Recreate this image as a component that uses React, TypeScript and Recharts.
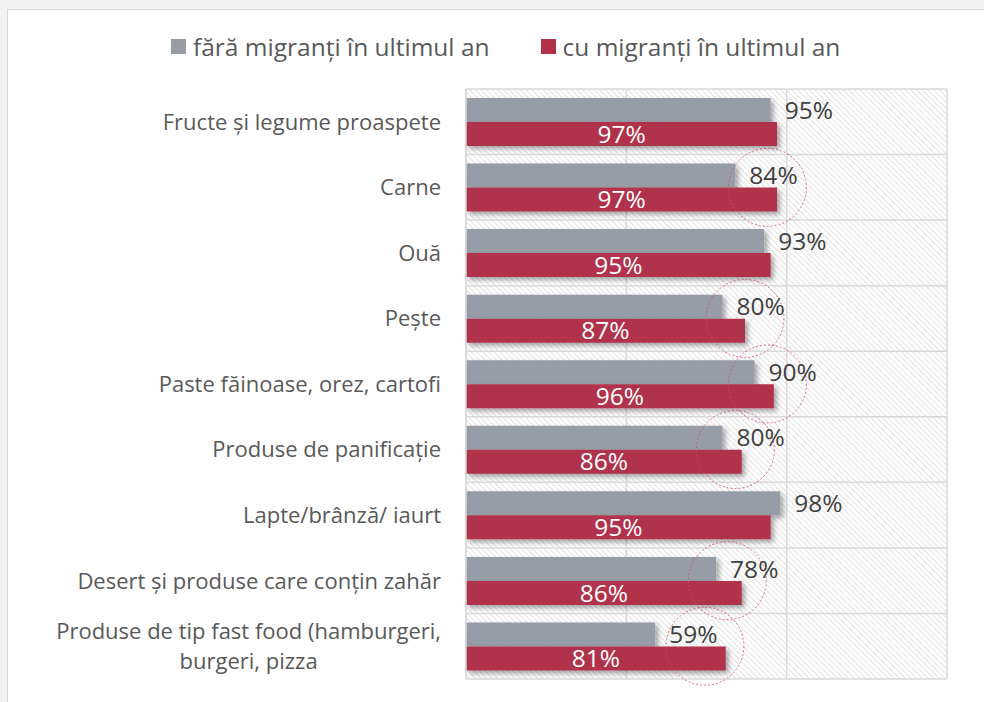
import React from 'react';
import {
  BarChart,
  Bar,
  XAxis,
  YAxis,
  CartesianGrid,
  LabelList,
  ReferenceDot,
  Rectangle,
} from 'recharts';

const categories = [
  'Fructe și legume proaspete',
  'Carne',
  'Ouă',
  'Pește',
  'Paste făinoase, orez, cartofi',
  'Produse de panificație',
  'Lapte/brânză/ iaurt',
  'Desert și produse care conțin zahăr',
  'Produse de tip fast food (hamburgeri,\nburgeri, pizza',
];
const faraMigranti = [95, 84, 93, 80, 90, 80, 98, 78, 59];
const cuMigranti = [97, 97, 95, 87, 96, 86, 95, 86, 81];
// dotted circles drawn by hand around some labels (x position in % units)
const highlightAt: (number | null)[] = [null, 94, null, 87, 94, 84, null, 81.5, 74.5];
const xTicks = [0, 50, 100, 150];
const seriesNames = ['fără migranți în ultimul an', 'cu migranți în ultimul an'];

const GRAY = '#969DA6';
const RED = '#B1314B';
const FONT = '"Open Sans", sans-serif';

const data = categories.map((name, i) => ({
  name,
  fara: faraMigranti[i],
  cu: cuMigranti[i],
}));

let measureCtx: CanvasRenderingContext2D | null = null;
function measure(text: string, font: string): number {
  if (!measureCtx) {
    const c = document.createElement('canvas');
    measureCtx = c.getContext('2d');
  }
  if (!measureCtx) return text.length * 10;
  measureCtx.font = font;
  return measureCtx.measureText(text).width;
}

const CAT_SIZE = 22;

const CategoryTick = (props: any) => {
  const { x, y, payload } = props;
  const lines = String(payload.value).split('\n');
  const style = { fontFamily: FONT, fontSize: CAT_SIZE, fill: '#595959' };
  if (lines.length === 1) {
    return (
      <text x={x} y={y} dy="0.36em" textAnchor="end" {...style}>
        {lines[0]}
      </text>
    );
  }
  const w = Math.max(...lines.map((l) => measure(l, `${CAT_SIZE}px ${FONT}`)));
  const cx = x - w / 2;
  const lh = 30;
  return (
    <text textAnchor="middle" {...style}>
      {lines.map((l, i) => (
        <tspan key={i} x={cx} y={y + (i - (lines.length - 1) / 2) * lh} dy="0.36em">
          {l}
        </tspan>
      ))}
    </text>
  );
};

const ShadowBar = (props: any) => <Rectangle {...props} filter="url(#barShadow)" />;

const LegendBlock = () => (
  <div
    style={{
      position: 'absolute',
      left: 171,
      top: 29,
      height: 34,
      display: 'flex',
      alignItems: 'center',
      fontFamily: FONT,
      fontSize: 24.5,
      color: '#595959',
      whiteSpace: 'nowrap',
    }}
  >
    {[GRAY, RED].map((c, i) => (
      <div key={i} style={{ display: 'flex', alignItems: 'center', marginRight: i === 0 ? 51 : 0 }}>
        <span style={{ display: 'inline-block', width: 15, height: 15, background: c, marginRight: 7 }} />
        <span>{seriesNames[i]}</span>
      </div>
    ))}
  </div>
);

export default function App() {
  return (
    <div
      style={{
        position: 'absolute',
        left: 0,
        top: 0,
        width: 984,
        height: 702,
        background: '#f2f2f2',
        overflow: 'hidden',
      }}
    >
      <div
        style={{
          position: 'absolute',
          left: 7,
          top: 9,
          width: 1000,
          height: 720,
          background: '#ffffff',
          border: '1px solid #d9d9d9',
        }}
      />
      <div style={{ position: 'absolute', left: 0, top: 0 }}>
        <BarChart
          layout="vertical"
          width={984}
          height={702}
          data={data}
          margin={{ top: 89, right: 37, bottom: 23, left: 0 }}
          barGap={0}
          barSize={24}
          style={{ fontFamily: FONT }}
        >
          <defs>
            <pattern
              id="hatch"
              patternUnits="userSpaceOnUse"
              width="4"
              height="4"
              patternTransform="rotate(-45)"
            >
              <rect width="4" height="4" fill="#ffffff" />
              <line x1="0" y1="0" x2="0" y2="4" stroke="#e2e2e2" strokeWidth="2" />
            </pattern>
            <filter id="barShadow" x="-10%" y="-30%" width="130%" height="180%">
              <feDropShadow dx="3" dy="3" stdDeviation="2.5" floodColor="#000" floodOpacity="0.35" />
            </filter>
          </defs>
          <CartesianGrid
            fill="url(#hatch)"
            fillOpacity={1}
            stroke="#d9d9d9"
            strokeWidth={1.5}
            horizontalCoordinatesGenerator={({ offset }: any) =>
              Array.from({ length: categories.length + 1 }, (_, i) => offset.top + (i * offset.height) / categories.length)
            }
          />
          <XAxis type="number" domain={[0, 150]} ticks={xTicks} hide />
          <YAxis
            type="category"
            dataKey="name"
            width={466}
            axisLine={{ stroke: '#d9d9d9', strokeWidth: 1.5 }}
            tickLine={false}
            tickSize={0}
            tickMargin={25}
            tick={<CategoryTick />}
            interval={0}
          />
          <Bar dataKey="fara" name={seriesNames[0]} fill={GRAY} isAnimationActive={false} shape={<ShadowBar />}>
            <LabelList
              dataKey="fara"
              position="right"
              offset={14}
              fill="#404040"
              fontSize={24.5}
              formatter={(v: any) => `${v}%`}
            />
          </Bar>
          <Bar dataKey="cu" name={seriesNames[1]} fill={RED} isAnimationActive={false} shape={<ShadowBar />}>
            <LabelList
              dataKey="cu"
              position="center"
              fill="#ffffff"
              fontSize={24.5}
              formatter={(v: any) => `${v}%`}
            />
          </Bar>
          {categories.map((c, i) =>
            highlightAt[i] != null ? (
              <ReferenceDot
                key={c}
                x={highlightAt[i] as number}
                y={c}
                r={39}
                fill="none"
                stroke="#d24a63"
                strokeWidth={0.8}
                strokeDasharray="2 2"
                ifOverflow="visible"
              />
            ) : null
          )}
        </BarChart>
      </div>
      <LegendBlock />
    </div>
  );
}
